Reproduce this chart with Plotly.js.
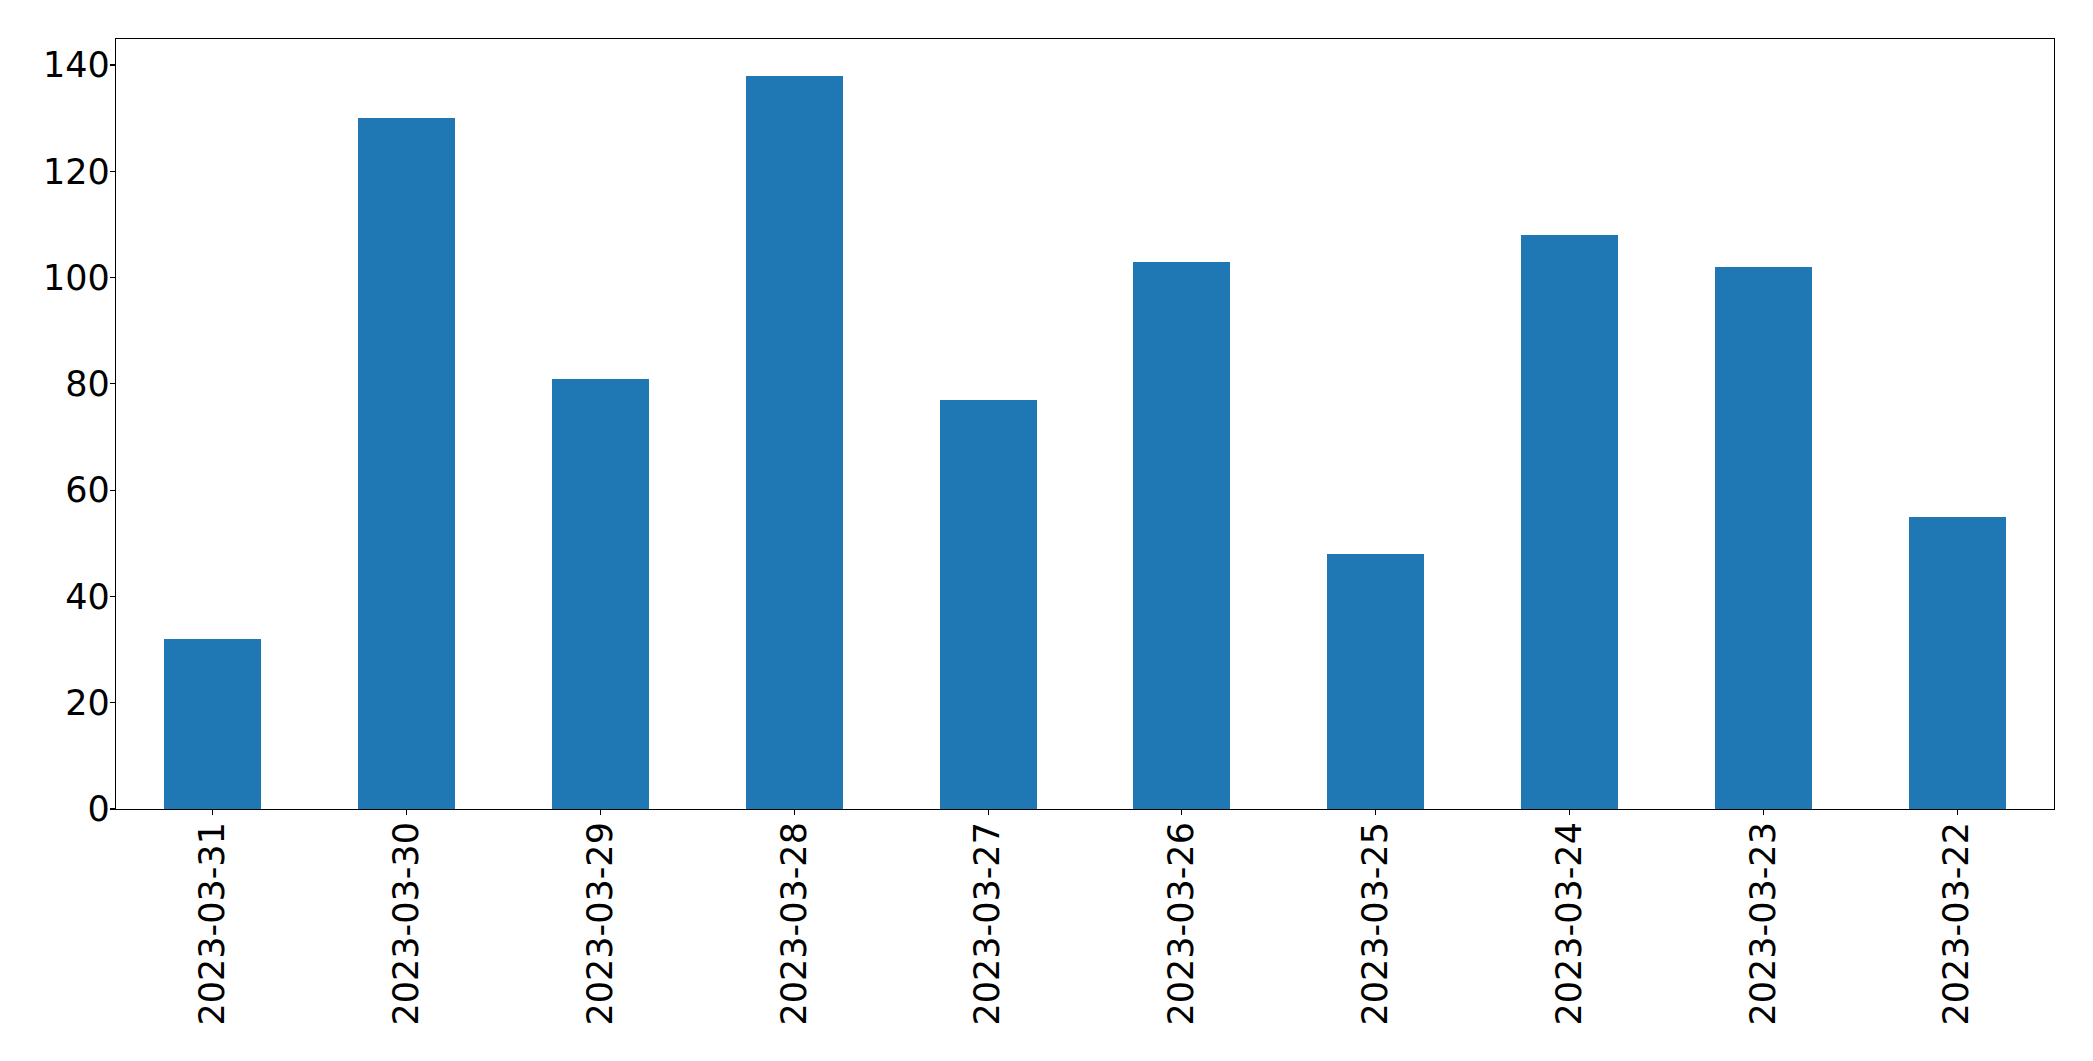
<!DOCTYPE html>
<html>
<head>
<meta charset="utf-8">
<script src="https://cdn.plot.ly/plotly-3.0.1.min.js"></script>
<style>
  html, body { margin: 0; padding: 0; background: #ffffff; }
  #chart { width: 2093px; height: 1061px; }
</style>
</head>
<body>
<div id="chart"></div>
<script>
const categories = ["2023-03-31", "2023-03-30", "2023-03-29", "2023-03-28", "2023-03-27",
                    "2023-03-26", "2023-03-25", "2023-03-24", "2023-03-23", "2023-03-22"];
const values = [32, 130, 81, 138, 77, 103, 48, 108, 102, 55];
const yTickValues = [0, 20, 40, 60, 80, 100, 120, 140];

const trace = {
  type: 'bar',
  x: categories,
  y: values,
  width: 0.5,
  marker: { color: '#1f77b4', line: { width: 0 } },
  hoverinfo: 'x+y'
};

const fontFamily = '"DejaVu Sans", sans-serif';
const fontSize = 35;

const layout = {
  width: 2093,
  height: 1061,
  margin: { l: 116, r: 39, t: 39, b: 252, pad: 0 },
  paper_bgcolor: '#ffffff',
  plot_bgcolor: '#ffffff',
  showlegend: false,
  bargap: 0,
  font: { family: fontFamily, size: fontSize, color: '#000000' },
  xaxis: {
    type: 'category',
    range: [-0.5, 9.5],
    tickangle: -90,
    ticks: 'outside',
    ticklen: 5,
    tickwidth: 1.1,
    tickcolor: '#000000',
    showline: true,
    linecolor: '#000000',
    linewidth: 1.1,
    mirror: true,
    showgrid: false,
    zeroline: false,
    tickfont: { family: fontFamily, size: fontSize, color: '#000000' },
    ticklabelstandoff: -7
  },
  yaxis: {
    range: [0, 144.9],
    tickmode: 'array',
    tickvals: yTickValues,
    ticktext: yTickValues.map(String),
    ticks: 'outside',
    ticklen: 5,
    tickwidth: 1.1,
    tickcolor: '#000000',
    showline: true,
    linecolor: '#000000',
    linewidth: 1.1,
    mirror: true,
    showgrid: false,
    zeroline: false,
    tickfont: { family: fontFamily, size: fontSize, color: '#000000' },
    ticklabelstandoff: -7
  }
};

Plotly.newPlot('chart', [trace], layout, { displayModeBar: false, staticPlot: true });
</script>
</body>
</html>
